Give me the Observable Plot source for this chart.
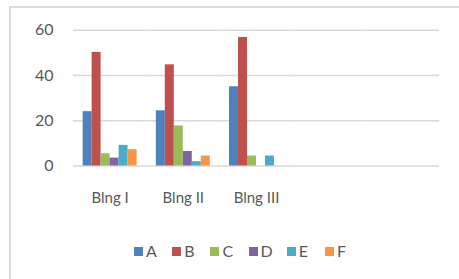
<!DOCTYPE html>
<html>
<head>
<meta charset="utf-8">
<script src="https://cdn.jsdelivr.net/npm/d3@7"></script>
<script src="https://cdn.jsdelivr.net/npm/@observablehq/plot@0.6"></script>
<style>
  html, body { margin: 0; padding: 0; background: #fff; }
  #wrap { position: relative; width: 459px; height: 279px; overflow: hidden; font-family: Lato, "Open Sans", sans-serif; }
  #box { position: absolute; left: 9px; top: 6px; width: 460px; height: 290px; border-left: 2px solid #dcdcdc; border-top: 2px solid #dcdcdc; box-sizing: border-box; }
  #chart { position: absolute; left: 0; top: 0; }
  #legend { position: absolute; left: 134px; top: 241px; display: flex; align-items: center; color: #595959; font-size: 16px; line-height: 20px; }
  #legend .item { display: inline-flex; align-items: center; width: 38.2px; }
  #legend .sw { width: 9px; height: 9px; margin-right: 3px; }
</style>
</head>
<body>
<div id="wrap">
  <div id="box"></div>
  <div id="chart"></div>
  <div id="legend"></div>
</div>
<script>
const categories = ["Blng I", "Blng II", "Blng III", " ", "  "];
const series = ["A", "B", "C", "D", "E", "F"];
const colors = ["#4F81BD", "#C0504D", "#9BBB59", "#8064A2", "#4BACC6", "#F79646"];
// values per category (the last two categories are empty)
const valuesA = [24, 24.4, 35, null, null];
const valuesB = [50.2, 44.7, 56.8, null, null];
const valuesC = [5.4, 17.7, 4.4, null, null];
const valuesD = [3.5, 6.4, 0, null, null];
const valuesE = [9.1, 1.9, 4.4, null, null];
const valuesF = [7.2, 4.4, 0, null, null];
const yTicks = [0, 20, 40, 60];

const seriesValues = [valuesA, valuesB, valuesC, valuesD, valuesE, valuesF];
const data = [];
series.forEach((s, i) => {
  seriesValues[i].forEach((v, j) => data.push({cat: categories[j], s, v}));
});

const chart = Plot.plot({
  width: 459,
  height: 215,
  marginLeft: 73,
  marginRight: 20,
  marginTop: 29.7,
  marginBottom: 49.5,
  style: {fontFamily: "Lato, 'Open Sans', sans-serif", background: "transparent", overflow: "visible"},
  fx: {domain: categories, padding: 0, round: false, label: null},
  x: {domain: series, paddingInner: 0, paddingOuter: 1.07, round: false, axis: null},
  y: {domain: [0, 60], label: null},
  color: {domain: series, range: colors},
  marks: [
    Plot.gridY(yTicks, {stroke: "#d9d9d9", strokeOpacity: 1, strokeWidth: 1.5}),
    Plot.axisY(yTicks, {tickSize: 0, tickPadding: 20, fontSize: 16, fill: "#595959", label: null}),
    Plot.axisFx({anchor: "bottom", tickSize: 0, tickPadding: 26, fontSize: 15, fill: "#595959", label: null}),
    Plot.barY(data, {fx: "cat", x: "s", y: "v", fill: "s"})
  ]
});
document.getElementById("chart").appendChild(chart);

const legend = document.getElementById("legend");
series.forEach((s, i) => {
  const item = document.createElement("span");
  item.className = "item";
  const sw = document.createElement("span");
  sw.className = "sw";
  sw.style.background = colors[i];
  const t = document.createElement("span");
  t.textContent = s;
  item.appendChild(sw);
  item.appendChild(t);
  legend.appendChild(item);
});
</script>
</body>
</html>
